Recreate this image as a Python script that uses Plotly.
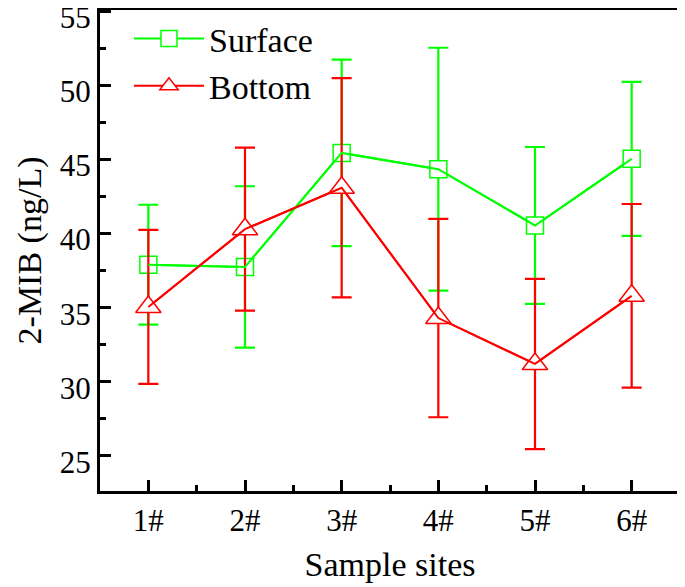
import plotly.graph_objects as go

sites = ["1#", "2#", "3#", "4#", "5#", "6#"]
x_pos = [1, 2, 3, 4, 5, 6]
surface = [37.9, 37.75, 45.45, 44.35, 40.55, 45.05]
surface_err = [4.05, 5.45, 6.3, 8.2, 5.3, 5.2]
bottom = [35.05, 40.3, 43.1, 34.3, 31.2, 35.8]
bottom_err = [5.2, 5.5, 7.4, 6.7, 5.75, 6.2]

GREEN = "#00ff00"
RED = "#ff0000"
FONT = "Liberation Serif"

fig = go.Figure()

for name, ys, errs, col, sym, grp in [
    ("Surface", surface, surface_err, GREEN, "square", "a"),
    ("Bottom", bottom, bottom_err, RED, "triangle-up", "b"),
]:
    fig.add_trace(go.Scatter(
        x=x_pos, y=ys, name=name, mode="lines+markers", legendgroup=grp,
        line=dict(color=col, width=2),
        marker=dict(symbol=sym, size=17 if sym == "square" else 22,
                    color="white", line=dict(color=col, width=1.5)),
        error_y=dict(type="data", array=errs, visible=True, color=col,
                     thickness=2.2, width=10),
    ))

for ys, col in [(surface, GREEN), (bottom, RED)]:
    fig.add_trace(go.Scatter(
        x=x_pos, y=ys, mode="lines", showlegend=False, hoverinfo="skip",
        line=dict(color=col, width=2),
    ))

axis_common = dict(
    showline=True, linecolor="black", linewidth=3, mirror=True,
    ticks="inside", ticklen=11, tickwidth=3, tickcolor="black",
    showgrid=False, zeroline=False, automargin=False,
    ticklabeloverflow="allow",
    tickfont=dict(family=FONT, size=31, color="black"),
)

fig.update_xaxes(
    **axis_common,
    range=[0.5, 6.5], tickmode="array", tickvals=x_pos, ticktext=sites,
    minor=dict(ticks="inside", ticklen=6, tickwidth=3, tickcolor="black",
               dtick=0.5, tick0=0.5, showgrid=False),
    title=dict(text="Sample sites", font=dict(family=FONT, size=34, color="black"),
               standoff=15),
)
fig.update_yaxes(
    **axis_common,
    range=[22.62, 55.1], tickmode="linear", tick0=25, dtick=5,
    ticklabelshift=6,
    minor=dict(ticks="inside", ticklen=6, tickwidth=3, tickcolor="black",
               dtick=2.5, tick0=22.5, showgrid=False),
    title=dict(text="2-MIB (ng/L)", font=dict(family=FONT, size=34, color="black"),
               standoff=8),
)

fig.update_layout(
    width=677, height=579,
    margin=dict(l=92, r=5, t=2, b=96),
    paper_bgcolor="white", plot_bgcolor="white",
    showlegend=True,
    legend=dict(x=0.05, y=1.0, xanchor="left", yanchor="top",
                bgcolor="rgba(0,0,0,0)", borderwidth=0,
                font=dict(family=FONT, size=34, color="black"),
                tracegroupgap=0, itemwidth=70),
)

fig.write_html("out.html")
